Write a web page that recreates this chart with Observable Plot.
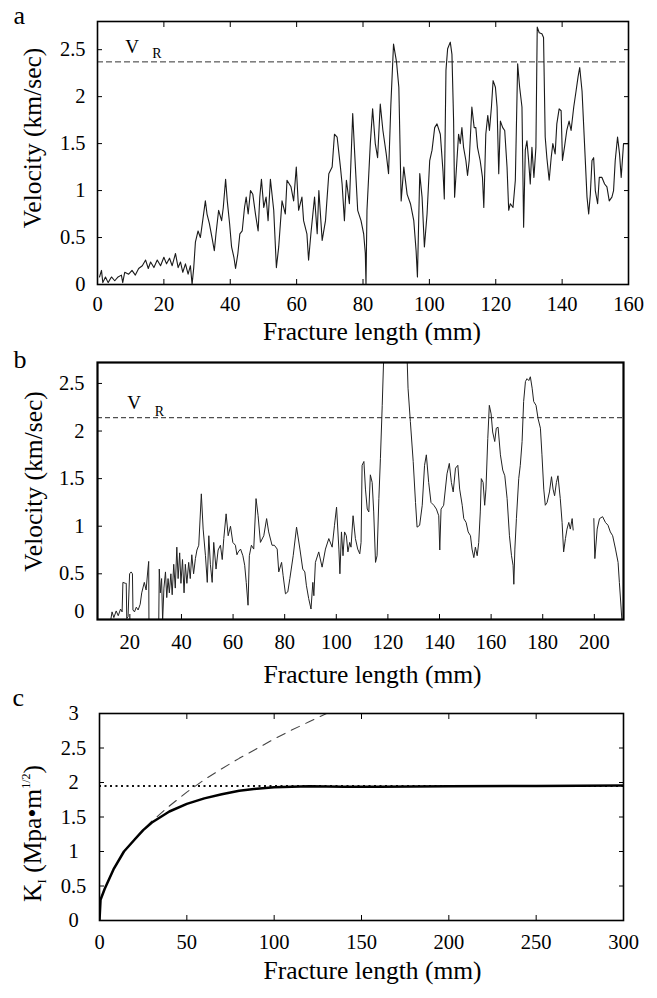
<!DOCTYPE html>
<html><head><meta charset="utf-8">
<script src="https://cdn.jsdelivr.net/npm/d3@7"></script>
<script src="https://cdn.jsdelivr.net/npm/@observablehq/plot@0.6"></script>
<style>
body{margin:0;background:#fff;}
#chart{position:relative;width:657px;height:998px;background:#fff;}
#chart > div{position:absolute;left:0;}
#chart svg text{font-family:"Liberation Serif", serif !important;}
</style></head><body><div id="chart"></div>
<script>
// ---------- Panel a data ----------
const aLength = [0.6,1.2,1.6,2.4,3.2,4.2,5.2,6.2,7.2,7.6,8.2,9.4,10.4,11.4,12.4,13.5,14.5,15.3,16.0,17.0,18.0,19.0,20.0,20.8,21.7,22.5,23.5,24.3,25.0,25.7,26.5,27.3,28.0,28.5,29.0,29.5,30.3,31.0,31.7,32.5,33.0,33.7,34.5,35.2,35.7,36.5,37.4,37.9,38.6,39.1,39.8,40.4,41.1,41.6,42.3,42.9,43.6,44.3,44.8,45.4,46.1,46.8,47.6,48.4,48.9,49.4,50.1,50.8,51.4,52.1,53.1,53.9,54.6,55.6,56.6,57.1,58.3,59.1,59.9,60.6,61.6,62.1,63.1,63.6,64.3,65.4,66.2,66.7,67.7,68.7,69.7,70.7,71.4,72.2,73.2,73.7,74.4,75.0,75.9,76.9,77.4,78.4,79.4,80.2,80.7,80.9,81.2,82.2,82.9,83.7,84.4,85.2,86.0,87.0,87.7,88.4,89.2,90.1,90.8,91.5,92.3,93.3,94.3,95.3,96.0,96.4,97.1,97.8,98.5,99.3,100.1,100.8,101.6,102.3,103.3,104.1,104.5,105.0,105.5,106.3,106.8,107.3,107.6,108.3,108.8,109.3,109.8,110.3,111.0,111.5,112.0,112.8,113.5,114.0,114.5,115.3,116.0,116.4,117.0,117.6,118.1,118.7,119.2,119.9,120.4,120.9,121.4,122.1,122.7,123.4,123.9,124.4,125.2,125.9,126.6,127.2,127.9,128.4,128.9,129.4,129.9,130.4,130.9,131.5,132.1,132.5,133.1,133.9,134.4,134.9,135.4,136.1,136.7,137.2,137.9,138.4,139.1,139.7,140.1,140.7,141.4,142.1,142.7,143.5,144.2,144.8,145.3,146.0,146.8,147.5,148.0,148.5,149.0,149.5,150.0,150.7,151.2,152.0,152.8,153.5,154.2,155.0,155.5,156.0,156.7,157.3,157.8,158.5,159.2,160.0];
const aVelocity = [0.08,0.15,0.02,0.08,0.02,0.08,0.04,0.08,0.10,0.02,0.13,0.11,0.15,0.10,0.17,0.20,0.26,0.17,0.24,0.18,0.26,0.20,0.29,0.22,0.28,0.20,0.33,0.18,0.24,0.13,0.22,0.11,0.20,0.0,0.18,0.45,0.57,0.50,0.68,0.89,0.75,0.65,0.50,0.36,0.54,0.79,0.68,0.82,1.12,0.89,0.65,0.40,0.29,0.17,0.33,0.54,0.57,0.82,0.93,0.75,1.00,0.96,0.75,0.57,0.93,1.12,0.82,0.93,0.68,1.12,0.79,0.18,0.40,0.89,0.75,1.11,1.04,0.89,1.25,0.79,0.93,0.68,0.54,0.26,0.54,0.93,0.54,1.00,0.47,0.68,1.18,1.25,1.60,1.57,1.25,1.07,0.68,1.11,0.86,1.82,1.46,0.79,0.68,0.54,0.33,0.0,0.79,1.50,1.87,1.50,1.35,1.92,1.64,1.39,1.18,1.92,2.56,2.37,2.10,0.89,1.25,0.96,0.86,0.68,0.36,0.08,1.18,0.93,0.40,0.75,1.32,1.43,1.67,1.71,1.60,1.21,0.91,2.28,2.51,2.58,2.45,1.74,0.93,1.32,1.60,1.50,1.67,1.46,1.32,1.16,1.32,1.89,1.67,1.67,1.46,1.32,1.14,0.82,1.60,1.80,1.64,1.89,2.17,2.10,1.89,1.18,1.74,1.67,1.64,1.25,0.79,0.86,0.82,1.11,2.35,2.10,1.89,0.61,1.43,1.53,1.32,1.07,1.46,1.14,1.46,2.74,2.68,2.67,2.63,1.57,1.35,1.11,1.35,1.50,1.39,1.71,1.87,1.85,1.32,1.46,1.64,1.74,1.64,1.89,2.06,2.21,2.31,2.06,1.46,0.93,0.75,0.96,1.32,1.35,1.00,0.86,1.14,1.14,1.07,1.04,0.89,0.93,1.00,1.32,1.57,1.39,1.14,1.50,1.50,1.50];
const vrA = 2.37;
const aXTicks = [0,20,40,60,80,100,120,140,160];
const aYTicks = [0,0.5,1,1.5,2,2.5];

// ---------- Panel b data (null = gap in the record) ----------
const bLength = [12.5,13.1,13.8,14.7,15.5,16.4,17.0,17.3,18.3,18.6,18.8,19.3,19.9,20.5,21.0,21.2,21.8,22.5,23.2,24.0,24.6,25.6,26.3,27.0,27.3,27.4,29.0,31.2,31.4,31.8,32.3,32.7,33.2,33.8,34.3,34.8,35.3,35.9,36.4,37.0,37.6,38.2,38.7,39.3,39.8,40.4,41.0,41.5,42.1,42.8,43.4,44.0,44.7,45.4,46.0,46.7,47.7,48.4,49.3,50.0,50.6,51.2,51.9,52.5,53.4,54.2,55.1,55.8,56.4,57.3,58.1,59.0,59.9,60.9,61.5,62.0,62.9,63.8,64.5,65.1,65.8,66.3,67.1,68.0,68.9,69.7,70.6,71.9,73.0,73.8,75.1,76.0,77.1,77.7,78.8,79.4,80.3,81.2,82.0,83.3,84.6,85.9,87.0,87.8,88.4,89.3,90.2,90.9,91.3,91.9,93.2,94.5,95.8,97.1,98.4,99.3,100.1,101.0,101.4,102.0,102.6,103.2,103.9,104.5,105.2,105.7,106.5,107.4,108.3,109.1,109.6,110.0,110.7,111.3,112.0,112.6,113.2,113.9,114.5,115.2,115.8,116.5,117.1,117.8,118.4,119.5,123.0,126.5,127.4,127.8,128.7,129.8,130.7,131.3,132.3,133.3,134.2,134.9,135.8,136.7,137.8,138.8,139.7,140.1,140.6,141.6,142.9,143.8,144.6,145.3,146.2,147.1,147.8,148.8,149.4,150.3,151.1,152.0,152.6,153.3,153.9,154.6,155.2,155.8,156.2,156.9,157.5,158.0,158.7,159.3,160.0,160.6,161.4,162.0,162.7,163.6,164.5,165.3,166.2,167.1,167.9,168.5,168.8,169.2,169.8,170.7,171.3,172.0,172.6,173.3,173.9,174.6,175.2,175.9,176.5,177.4,178.2,179.1,179.7,180.4,181.0,181.7,182.6,183.4,184.0,184.6,185.3,185.9,186.8,187.5,188.1,188.8,189.4,190.1,190.7,191.4,191.8,195.0,199.8,200.2,201.1,202.0,203.2,204.3,205.3,206.2,207.1,208.2,209.2,209.7,210.4,210.7];
const bVelocity = [0.0,0.10,0.04,0.11,0.06,0.13,0.10,0.41,0.40,0.40,0.03,0.05,0.50,0.52,0.50,0.12,0.10,0.15,0.12,0.18,0.30,0.41,0.33,0.55,0.63,0.0,null,0.0,0.55,0.30,0.45,0.0,0.35,0.52,0.25,0.45,0.30,0.50,0.28,0.60,0.35,0.78,0.45,0.72,0.40,0.65,0.30,0.60,0.40,0.62,0.45,0.70,0.50,0.66,0.75,0.80,1.34,0.97,0.69,0.41,0.90,0.60,0.41,0.83,0.55,0.75,0.80,0.65,0.87,1.13,0.90,1.00,0.83,0.80,0.70,0.73,0.76,0.69,0.59,0.41,0.17,0.69,0.80,0.76,1.29,1.11,0.83,0.90,1.08,0.94,0.80,0.80,0.76,0.52,0.62,0.48,0.29,0.31,0.45,0.69,0.99,0.76,0.55,0.52,0.38,0.24,0.13,0.41,0.27,0.62,0.73,0.57,0.76,0.87,0.78,1.01,1.20,0.76,0.50,0.94,0.69,0.94,0.90,0.73,0.83,0.78,1.11,0.87,0.76,0.71,0.83,1.64,1.68,1.39,1.18,1.15,1.54,1.46,1.15,0.62,0.69,1.29,1.71,2.27,2.80,3.40,3.70,3.40,2.80,2.45,2.10,1.68,1.25,0.99,1.01,1.22,1.64,1.75,1.46,1.25,1.22,1.18,1.11,0.75,1.18,1.22,1.55,1.66,1.46,1.36,1.61,1.64,1.39,1.22,1.08,1.04,0.94,0.90,0.76,0.67,0.78,0.69,0.83,1.15,1.50,1.46,1.22,1.39,1.92,2.27,2.18,1.99,1.89,2.03,2.04,1.75,1.59,1.53,1.29,0.90,0.69,0.59,0.39,0.76,1.08,1.50,1.64,1.89,2.31,2.52,2.55,2.53,2.57,2.45,2.31,2.27,2.13,2.03,1.75,1.39,1.22,1.25,1.36,1.52,1.39,1.32,1.46,1.53,1.29,1.04,0.73,0.87,0.97,1.04,0.97,1.08,0.96,null,1.08,0.66,0.97,1.08,1.10,1.04,1.01,0.94,0.90,0.76,0.62,0.41,0.13,0.0];
const vrB = 2.14;
const bXTicks = [20,40,60,80,100,120,140,160,180,200];
const bYTicks = [0.5,1,1.5,2,2.5];
const bYZeroTick = [0];

// ---------- Panel c data ----------
const cLength = [0,0.6,3,8,14,20,25,30,35,40,50,60,70,80,90,100,110,120,140,160,200,250,300];
const cKI = [0,0.30,0.46,0.74,1.0,1.17,1.31,1.42,1.50,1.58,1.69,1.77,1.83,1.88,1.91,1.93,1.94,1.945,1.94,1.94,1.945,1.95,1.955];
const cFitLength = [20,25,30,40,50,60,70,80,90,100,110,120,130,140];
const cFitKI = [1.18,1.31,1.44,1.66,1.86,2.04,2.20,2.35,2.49,2.63,2.76,2.88,3.0,3.11];
const kIc = 1.95;
const cXTicks = [0,50,100,150,200,250,300];
const cYTicks = [0,0.5,1,1.5,2,2.5,3];

const fmt = d => String(d);
const serif = "Liberation Serif";
const baseStyle = {fontFamily: serif, fontSize: "20.5px", background: "white", color: "black", overflow: "visible"};
const titleSize = 25.5;

function inwardTicks(xt, yt, mirror) {
  const m = [
    Plot.axisX(xt, {anchor: "bottom", tickSize: 5, dy: -5, fill: "none", label: null}),
    Plot.axisY(yt, {anchor: "left", tickSize: 5, dx: 5, fill: "none", label: null})
  ];
  if (mirror) {
    m.push(Plot.axisX(xt, {anchor: "top", tickSize: 5, dy: 5, fill: "none", label: null}));
    m.push(Plot.axisY(yt, {anchor: "right", tickSize: 5, dx: -5, fill: "none", label: null}));
  }
  return m;
}

// ---------- Panel a ----------
const svgA = Plot.plot({
  width: 657, height: 345,
  marginLeft: 97, marginRight: 29, marginTop: 21, marginBottom: 61,
  x: {domain: [0, 160], label: null},
  y: {domain: [0, 2.8], label: null},
  style: baseStyle,
  marks: [
    Plot.ruleY([vrA], {stroke: "#333", strokeWidth: 1, strokeDasharray: "6,3"}),
    Plot.line(aLength, {x: aLength, y: aVelocity, stroke: "#1a1a1a", strokeWidth: 1.1, clip: true}),
    Plot.frame({strokeWidth: 1.6}),
    Plot.axisX(aXTicks, {anchor: "bottom", tickSize: 0, tickPadding: 12, tickFormat: fmt, label: null}),
    Plot.axisY(aYTicks, {anchor: "left", tickSize: 0, tickPadding: 12, tickFormat: fmt, label: null}),
    ...inwardTicks(aXTicks, aYTicks, true),
    Plot.text(["V"], {x: 10.4, y: vrA, dy: -9, lineAnchor: "bottom", fontSize: 19}),
    Plot.text(["R"], {x: 17.9, y: vrA, dy: -4, lineAnchor: "bottom", fontSize: 14}),
    Plot.text(["a"], {frameAnchor: "top-left", dx: -84, dy: 2, textAnchor: "start", lineAnchor: "bottom", fontSize: 26}),
    Plot.text(["Fracture length (mm)"], {frameAnchor: "bottom", dx: 9, dy: 55, lineAnchor: "bottom", fontSize: titleSize}),
    Plot.text(["Velocity (km/sec)"], {frameAnchor: "left", dx: -64.5, dy: -15, rotate: -90, lineAnchor: "middle", textAnchor: "middle", fontSize: titleSize})
  ]
});

// ---------- Panel b ----------
const svgB = Plot.plot({
  width: 657, height: 345,
  marginLeft: 97, marginRight: 34, marginTop: 17, marginBottom: 71,
  x: {domain: [7.46, 211.3], label: null},
  y: {domain: [0.02, 2.72], label: null},
  style: baseStyle,
  marks: [
    Plot.ruleY([vrB], {stroke: "#222", strokeWidth: 1, strokeDasharray: "5,3"}),
    Plot.line(bLength, {x: bLength, y: bVelocity, stroke: "#222", strokeWidth: 1, clip: true}),
    Plot.frame({strokeWidth: 2.2}),
    Plot.axisX(bXTicks, {anchor: "bottom", tickSize: 0, tickPadding: 15, tickFormat: fmt, label: null}),
    Plot.axisY(bYTicks, {anchor: "left", tickSize: 0, tickPadding: 13, tickFormat: fmt, label: null}),
    Plot.axisY(bYZeroTick, {anchor: "left", tickSize: 0, tickPadding: 13, tickFormat: fmt, dy: -10, label: null}),
    ...inwardTicks(bXTicks, bYTicks, false),
    Plot.text(["V"], {x: 21.6, y: vrB, dy: -9, lineAnchor: "bottom", fontSize: 19}),
    Plot.text(["R"], {x: 31.5, y: vrB, dy: -1.5, lineAnchor: "bottom", fontSize: 14}),
    Plot.text(["b"], {frameAnchor: "top-left", dx: -84, dy: 5, textAnchor: "start", lineAnchor: "bottom", fontSize: 26}),
    Plot.text(["Fracture length (mm)"], {frameAnchor: "bottom", dx: 12, dy: 63, lineAnchor: "bottom", fontSize: titleSize}),
    Plot.text(["Velocity (km/sec)"], {frameAnchor: "left", dx: -64, dy: -9.5, rotate: -90, lineAnchor: "middle", textAnchor: "middle", fontSize: titleSize})
  ]
});

// ---------- Panel c ----------
const svgC = Plot.plot({
  width: 657, height: 308,
  marginLeft: 99, marginRight: 34, marginTop: 23, marginBottom: 78,
  x: {domain: [0, 300], label: null},
  y: {domain: [0, 3], label: null},
  style: baseStyle,
  marks: [
    Plot.ruleY([kIc], {stroke: "#111", strokeWidth: 2, strokeDasharray: "2,3.5"}),
    Plot.line(cFitLength, {x: cFitLength, y: cFitKI, stroke: "#444", strokeWidth: 1.1, strokeDasharray: "9,7", clip: true}),
    Plot.line(cLength, {x: cLength, y: cKI, stroke: "#000", strokeWidth: 2.5, clip: true}),
    Plot.frame({strokeWidth: 1.6}),
    Plot.axisX(cXTicks, {anchor: "bottom", tickSize: 0, tickPadding: 14, tickFormat: fmt, label: null}),
    Plot.axisY(cYTicks, {anchor: "left", tickSize: 0, tickPadding: 26, tickFormat: fmt, textAnchor: "middle", label: null}),
    ...inwardTicks(cXTicks, cYTicks, true),
    Plot.text(["c"], {frameAnchor: "top-left", dx: -87, dy: -8, textAnchor: "start", lineAnchor: "bottom", fontSize: 26}),
    Plot.text(["Fracture length (mm)"], {frameAnchor: "bottom", dx: 11, dy: 58, lineAnchor: "bottom", fontSize: titleSize}),
    Plot.text(["KTITLE"], {frameAnchor: "left", dx: -66.5, dy: 16.5, rotate: -90, lineAnchor: "middle", textAnchor: "middle", fontSize: titleSize})
  ]
});

// rich-text y title for panel c: K_I (Mpa•m^1/2)
d3.select(svgC).selectAll("text").filter(function() { return this.textContent === "KTITLE"; }).each(function() {
  const t = d3.select(this);
  t.text(null);
  t.append("tspan").text("K");
  t.append("tspan").attr("font-size", 13).attr("dy", 5).text("I");
  t.append("tspan").attr("dy", -5).text(" (Mpa\u2022m");
  t.append("tspan").attr("font-size", 12).attr("dy", -11).text("1/2");
  t.append("tspan").attr("dy", 11).text(")");
});

const root = document.getElementById("chart");
[[svgA, 0], [svgB, 345], [svgC, 690]].forEach(([svg, top]) => {
  const d = document.createElement("div");
  d.style.top = top + "px";
  d.appendChild(svg);
  root.appendChild(d);
});
</script></body></html>
